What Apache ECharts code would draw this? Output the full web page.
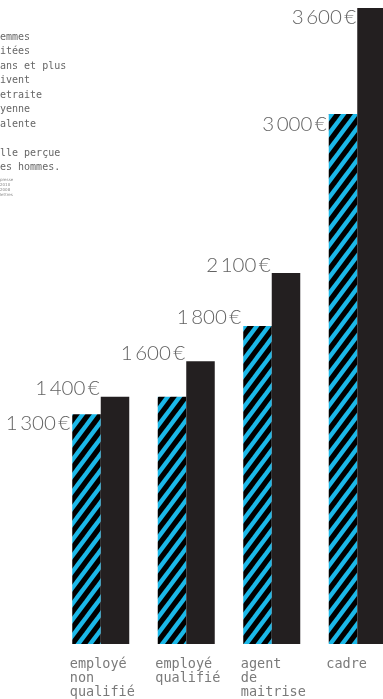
<!DOCTYPE html>
<html>
<head>
<meta charset="utf-8">
<script src="https://cdn.jsdelivr.net/npm/echarts@6/dist/echarts.min.js"></script>
<style>
html,body{margin:0;padding:0;background:#fff;overflow:hidden;width:383px;height:699px;}
#chart{width:401px;height:699px;}
</style>
</head>
<body>
<div id="chart"></div>
<script>
// ---- data ----
var categories = ['employé\nnon\nqualifié', 'employé\nqualifié', 'agent\nde\nmaitrise', 'cadre'];
var womenValues = [1300, 1400, 1800, 3000];
var menValues = [1400, 1600, 2100, 3600];
var womenLabelShown = [true, false, true, true];
var introLines = ['emmes', 'itées', 'ans et plus', 'ivent', 'etraite', 'yenne', 'alente', '', 'lle perçue', 'es hommes.'];
var sourceLines = ['presse', '2010', '2008', 'lettres'];

// ---- hatch pattern ----
function makeHatch() {
  var W = 12, H = 16, sw = 6.5;
  var c = document.createElement('canvas');
  c.width = W; c.height = H;
  var g = c.getContext('2d');
  g.fillStyle = '#1bb8e8';
  g.fillRect(0, 0, W, H);
  g.fillStyle = '#000000';
  for (var k = -2; k <= 1; k++) {
    var x0 = k * W;
    g.beginPath();
    g.moveTo(x0, H);
    g.lineTo(x0 + sw, H);
    g.lineTo(x0 + W + sw, 0);
    g.lineTo(x0 + W, 0);
    g.closePath();
    g.fill();
  }
  return c;
}
var hatch = makeHatch();

function fmt(v) {
  var s = String(v);
  return s.slice(0, s.length - 3) + '\u2009' + s.slice(s.length - 3) + '\u2009€';
}

// label placement: vertical offset from bar top (style only)
var womenDy = [9, 0, -9, 10];
var menDy = [-8, -8, -8, 9];

var labelBase = {
  show: true,
  align: 'right',
  verticalAlign: 'middle',
  fontFamily: 'Lato, "Liberation Sans", sans-serif',
  fontWeight: 300,
  fontSize: 20.5,
  color: '#636363',
  formatter: function (p) { return fmt(p.value); }
};

var womenData = womenValues.map(function (v, i) {
  return {
    value: v,
    label: Object.assign({}, labelBase, { show: womenLabelShown[i], position: [-2, womenDy[i]] })
  };
});
var menData = menValues.map(function (v, i) {
  return {
    value: v,
    label: Object.assign({}, labelBase, { position: [-1, menDy[i]] })
  };
});

var chart = echarts.init(document.getElementById('chart'), null, { renderer: 'canvas', width: 401, height: 699 });

chart.setOption({
  animation: false,
  backgroundColor: '#ffffff',
  grid: { left: 58, width: 342, top: 8, bottom: 54, containLabel: false },
  xAxis: {
    type: 'category',
    data: categories,
    axisLine: { show: false },
    axisTick: { show: false },
    axisLabel: {
      interval: 0,
      margin: 13,
      align: 'center',
      formatter: function (v) {
        return v.split('\n').map(function (l) { return '{a|' + l + '}'; }).join('\n');
      },
      rich: {
        a: {
          width: 62,
          align: 'left',
          fontFamily: '"DejaVu Sans Mono", monospace',
          fontSize: 13.5,
          lineHeight: 14,
          color: '#7a7a7a'
        }
      }
    }
  },
  yAxis: {
    type: 'value',
    min: 0,
    max: 3600,
    show: false,
    splitLine: { show: false }
  },
  series: [
    {
      type: 'bar',
      name: 'femmes',
      data: womenData,
      barWidth: 28.5,
      barGap: '0%',
      itemStyle: { color: { image: hatch, repeat: 'repeat' } }
    },
    {
      type: 'bar',
      name: 'hommes',
      data: menData,
      barWidth: 28.5,
      barGap: '0%',
      itemStyle: { color: '#231f20' }
    }
  ],
  graphic: [
    {
      type: 'text',
      left: 0,
      top: 30,
      style: {
        text: introLines.join('\n'),
        fontFamily: '"DejaVu Sans Mono", monospace',
        fontSize: 10,
        lineHeight: 14.5,
        fill: '#666'
      }
    },
    {
      type: 'text',
      left: 0,
      top: 177,
      style: {
        text: sourceLines.join('\n'),
        fontFamily: '"DejaVu Sans", sans-serif',
        fontSize: 4,
        lineHeight: 5,
        fill: '#888'
      }
    }
  ]
});
</script>
</body>
</html>
